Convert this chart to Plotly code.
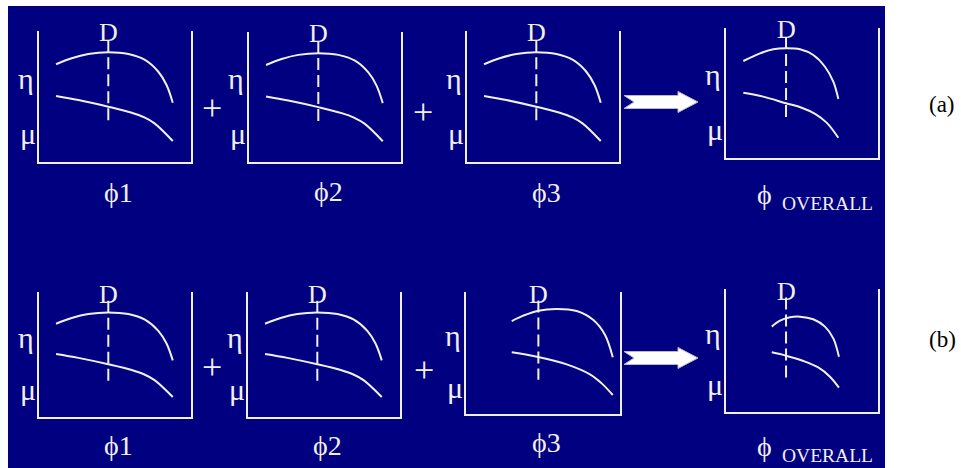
import plotly.graph_objects as go

W, H = 961, 468
NAVY = "#000080"
INK = "#f0f0f0"
FONT = "Liberation Serif"

# curve shapes, panel units (0-10 on both axes)
# single-stage curves (phi1, phi2, phi3 in (a); phi1, phi2 in (b))
phi_eta = [1.12, 2.15, 3.24, 4.56, 5.88, 6.97, 7.85, 8.39, 8.80]
eta = [7.46, 7.92, 8.24, 8.37, 8.24, 7.79, 6.89, 5.88, 4.53]
phi_mu = [1.12, 2.59, 4.56, 6.10, 6.90, 7.60, 8.80]
mu = [5.04, 4.73, 4.22, 3.76, 3.42, 2.95, 1.60]
design = 4.56

# overall (a)
phi_eta_oa = [1.14, 2.24, 3.11, 3.95, 4.87, 5.74, 6.51, 7.06, 7.39]
eta_oa = [7.46, 8.05, 8.36, 8.44, 8.36, 7.92, 7.02, 5.87, 4.54]
phi_mu_oa = [1.14, 2.45, 3.95, 4.98, 5.86, 6.62, 7.39]
mu_oa = [5.02, 4.72, 4.21, 3.87, 3.40, 2.72, 1.56]
design_oa = 3.95

# phi3 in (b), shifted stage
phi_eta_3b = [2.97, 3.72, 4.70, 5.89, 7.19, 8.27, 9.03, 9.53]
eta_3b = [7.62, 8.06, 8.47, 8.61, 8.44, 7.70, 6.48, 4.65]
phi_mu_3b = [2.97, 4.69, 6.54, 8.05, 8.81, 9.53]
mu_3b = [5.06, 4.67, 4.07, 3.25, 2.51, 1.56]
design_3b = 4.70

# overall (b), narrowed range
phi_eta_ob = [3.01, 3.55, 4.21, 4.87, 5.74, 6.51, 7.06, 7.43]
eta_ob = [6.94, 7.42, 7.70, 7.75, 7.54, 6.94, 5.99, 4.50]
phi_mu_ob = [3.01, 3.95, 5.09, 6.07, 6.84, 7.43]
mu_ob = [4.85, 4.58, 4.15, 3.62, 2.87, 1.98]
design_ob = 3.95

dash_range = [9.3, 2.8]

labels = ["ϕ1", "ϕ2", "ϕ3", "ϕ"]

std = (phi_eta, eta, phi_mu, mu, design)
panels = [
    std, std, std, (phi_eta_oa, eta_oa, phi_mu_oa, mu_oa, design_oa),
    std, std, (phi_eta_3b, eta_3b, phi_mu_3b, mu_3b, design_3b),
    (phi_eta_ob, eta_ob, phi_mu_ob, mu_ob, design_ob),
]
# pixel boxes (left, right, top, bottom)
boxes = [
    (39, 191, 31, 162), (249, 401, 32, 162), (467, 619, 31, 162), (726, 878, 28, 158),
    (39, 191, 292, 417), (248, 400, 292, 417), (466, 620, 292, 414), (726, 878, 289, 412),
]


def txt(text, x, y, size, color=INK, xanchor="center"):
    # x, y in page pixels
    return dict(text=text, x=x / W, y=1 - y / H, xref="paper", yref="paper",
                xanchor=xanchor, yanchor="middle", showarrow=False,
                font=dict(family=FONT, size=size, color=color))


fig = go.Figure()
ann = []
for i, (p, b) in enumerate(zip(panels, boxes), start=1):
    px_, py_, qx, qy, d = p
    l, r, t, bt = b
    suffix = "" if i == 1 else str(i)
    xa, ya = "x" + suffix, "y" + suffix
    line = dict(color=INK, width=2)
    fig.add_trace(go.Scatter(x=px_, y=py_, mode="lines", line=dict(line, shape="spline"),
                             xaxis=xa, yaxis=ya, hoverinfo="skip"))
    fig.add_trace(go.Scatter(x=qx, y=qy, mode="lines", line=dict(line, shape="spline"),
                             xaxis=xa, yaxis=ya, hoverinfo="skip"))
    fig.add_trace(go.Scatter(x=[d, d], y=dash_range, mode="lines",
                             line=dict(color=INK, width=2, dash="12px,5px"),
                             xaxis=xa, yaxis=ya, hoverinfo="skip"))
    fig.update_layout(**{
        f"xaxis{suffix}": dict(domain=[l / W, r / W], range=[0, 10], anchor=ya,
                               showline=True, linecolor=INK, linewidth=2, mirror=False,
                               showgrid=False, zeroline=False, showticklabels=False,
                               ticks="", fixedrange=True),
        f"yaxis{suffix}": dict(domain=[1 - bt / H, 1 - t / H], range=[0, 10], anchor=xa,
                               showline=True, linecolor=INK, linewidth=2, mirror=True,
                               showgrid=False, zeroline=False, showticklabels=False,
                               ticks="", fixedrange=True),
    })
    hgt = bt - t
    ann.append(dict(text="D", x=d, xref=xa, y=1 - (t + 2) / H, yref="paper",
                    xanchor="center", yanchor="middle", showarrow=False,
                    font=dict(family=FONT, size=26, color=INK)))
    ann.append(txt("η", l - 13, bt - 0.64 * hgt, 30))
    ann.append(txt("μ", l - 11, bt - 0.22 * hgt, 30))
    k = (i - 1) % 4
    if k < 3:
        ann.append(txt(labels[k], l + 0.52 * (r - l), bt + 0.23 * hgt, 28))
    else:
        ann.append(txt(labels[k], 764, bt + 0.28 * hgt, 28))
        ann.append(txt("OVERALL", 780, bt + 0.35 * hgt, 19.5, xanchor="left"))

# plus signs and row tags
for x, y in [(212, 108), (423, 112), (212, 367), (424, 370)]:
    ann.append(txt("+", x, y, 36))
for t_, x, y in [("(a)", 942, 105), ("(b)", 942, 339)]:
    ann.append(txt(t_, x, y, 23, color="black"))


def arrow(cy):
    pts = [(624, cy - 6.5), (678, cy - 6.5), (678, cy - 10.5), (698, cy),
           (678, cy + 10.5), (678, cy + 6.5), (624, cy + 6.5), (634, cy)]
    path = "M " + " L ".join(f"{x / W:.5f},{1 - y / H:.5f}" for x, y in pts) + " Z"
    return dict(type="path", path=path, xref="paper", yref="paper",
                fillcolor="white", line=dict(color="#b8b8c8", width=1))


shapes = [dict(type="rect", xref="paper", yref="paper", x0=8 / W, x1=885 / W,
               y0=0, y1=1 - 6 / H, fillcolor=NAVY, line=dict(width=0), layer="below"),
          arrow(102), arrow(358)]

fig.update_layout(width=W, height=H, margin=dict(l=0, r=0, t=0, b=0),
                  paper_bgcolor="white", plot_bgcolor="rgba(0,0,0,0)",
                  showlegend=False, annotations=ann, shapes=shapes)

# page body has a default 8px margin; drop it so the figure sits at 0,0
fig.write_html("out.html", config={"displayModeBar": False},
               post_script="document.body.style.margin='0';")
